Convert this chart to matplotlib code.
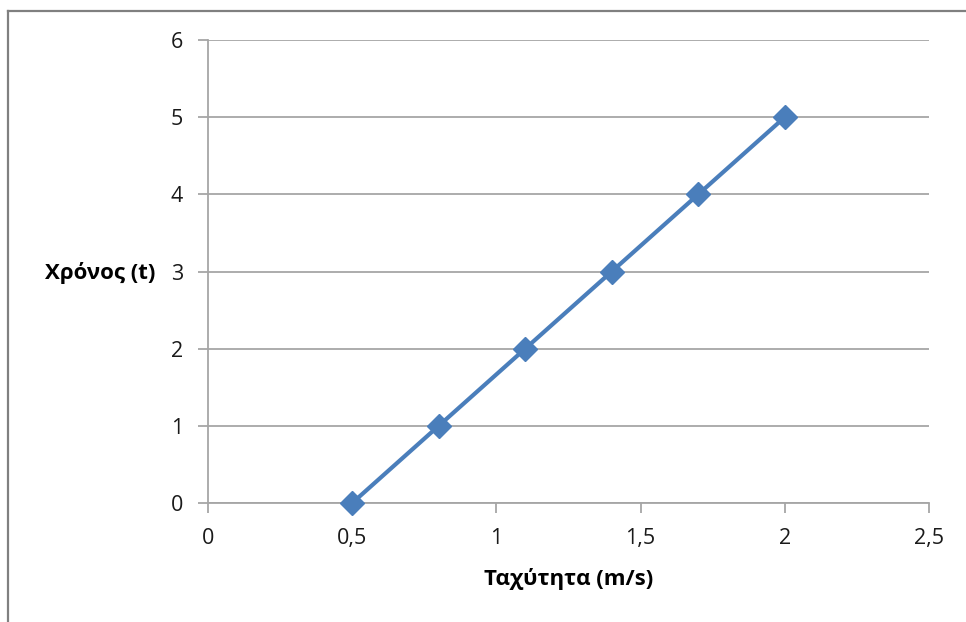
import matplotlib
matplotlib.use("Agg")
import matplotlib.pyplot as plt
from matplotlib.lines import Line2D
from matplotlib.ticker import FuncFormatter

speed = [0.5, 0.8, 1.1, 1.4, 1.7, 2.0]
time = [0, 1, 2, 3, 4, 5]
x_ticks = [0, 0.5, 1, 1.5, 2, 2.5]
y_ticks = [0, 1, 2, 3, 4, 5, 6]
x_label = "Ταχύτητα (m/s)"
y_label = "Χρόνος (t)"

plt.rcParams['font.family'] = ['Open Sans', 'DejaVu Sans']

W, H = 966, 622
fig = plt.figure(figsize=(W / 100, H / 100), dpi=100)
ax = fig.add_axes([208 / W, 1 - 503 / H, (929 - 208) / W, (503 - 40) / H])

grid_c = '#A6A6A6'
ax.plot(speed, time, color='#4A7EBB', lw=3.0, marker='D', markersize=12,
        markerfacecolor='#4A7EBB', markeredgecolor='#4A7EBB', zorder=3, clip_on=False)

ax.set_xlim(0, 2.5)
ax.set_ylim(0, 6)
ax.set_xticks(x_ticks)
ax.set_yticks(y_ticks)
fmt = FuncFormatter(lambda v, p: (('%g' % v).replace('.', ',')))
ax.xaxis.set_major_formatter(fmt)
ax.yaxis.set_major_formatter(fmt)
ax.yaxis.grid(True, color=grid_c, lw=1.3)
ax.set_axisbelow(True)
for s in ['top', 'right']:
    ax.spines[s].set_visible(False)
for s in ['left', 'bottom']:
    ax.spines[s].set_color(grid_c)
    ax.spines[s].set_linewidth(1.3)
ax.tick_params(axis='both', colors=grid_c, labelcolor='#1a1a1a', labelsize=15.5,
               length=7, width=1.3, direction='out')
ax.tick_params(axis='x', pad=11)
ax.tick_params(axis='y', pad=11)

fig.text(569 / W, 1 - 579 / H, x_label, ha='center', va='center',
         fontsize=16, fontweight='bold')
fig.text(100 / W, 1 - 273 / H, y_label, ha='center', va='center',
         fontsize=16, fontweight='bold')

# outer frame (left and top edges visible)
fig.add_artist(Line2D([8 / W, 8 / W], [0, 1 - 11 / H], transform=fig.transFigure,
                      color='#808080', lw=1.6))
fig.add_artist(Line2D([8 / W, 1], [1 - 11 / H, 1 - 11 / H], transform=fig.transFigure,
                      color='#808080', lw=1.6))

fig.savefig('out.png', dpi=100)
